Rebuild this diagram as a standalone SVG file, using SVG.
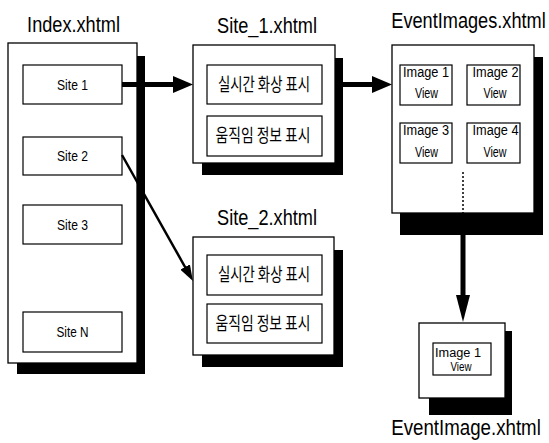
<svg xmlns="http://www.w3.org/2000/svg" width="549" height="443" viewBox="0 0 549 443">
<style>
.bg{fill:#fff}
.sh{fill:#000}
.box{fill:#fff;stroke:#000;stroke-width:1.3}
.in{fill:#fff;stroke:#000;stroke-width:1.2}
.t{font-family:"Liberation Sans",Arial,sans-serif;fill:#000;text-anchor:middle}
.title{font-size:22px}
.lbl{font-size:15px}
.img{font-size:14px}
.ko{font-family:"Noto Sans CJK KR","Noto Sans",sans-serif;font-size:18px;fill:#000;text-anchor:middle}
.thick{stroke:#000;stroke-width:5;fill:none}
.thin{stroke:#000;stroke-width:2.5;fill:none}
</style>
<defs>
<marker id="ahThick" viewBox="0 0 20 17" refX="10" refY="8.5" markerWidth="20" markerHeight="17" markerUnits="userSpaceOnUse" orient="auto"><path d="M0,0 L20,8.5 L0,17 z" fill="#000"/></marker>
<marker id="ahDown" viewBox="0 0 27 14" refX="5" refY="7" markerWidth="27" markerHeight="14" markerUnits="userSpaceOnUse" orient="auto"><path d="M0,0 L27,7 L0,14 z" fill="#000"/></marker>
<marker id="ahThin" viewBox="0 0 16 11" refX="8" refY="5.5" markerWidth="16" markerHeight="11" markerUnits="userSpaceOnUse" orient="auto"><path d="M0,0 L16,5.5 L0,11 z" fill="#000"/></marker>
</defs>
<rect class="bg" x="0" y="0" width="549" height="443"/>

<g id="index">
<text class="t title" transform="translate(73.5,32) scale(0.826,1)">Index.xhtml</text>
<rect class="sh" x="17" y="56" width="128" height="318"/>
<rect class="box" x="8" y="43" width="129" height="320"/>
<rect class="in" x="23" y="65" width="99" height="39"/>
<text class="t lbl" x="72.5" y="89.5" textLength="31" lengthAdjust="spacingAndGlyphs">Site 1</text>
<rect class="in" x="23" y="137" width="99" height="38"/>
<text class="t lbl" x="72.5" y="161" textLength="31" lengthAdjust="spacingAndGlyphs">Site 2</text>
<rect class="in" x="23" y="205" width="99" height="39"/>
<text class="t lbl" x="72.5" y="229.5" textLength="31" lengthAdjust="spacingAndGlyphs">Site 3</text>
<rect class="in" x="23" y="312" width="99" height="40"/>
<text class="t lbl" x="72.5" y="337" textLength="32" lengthAdjust="spacingAndGlyphs">Site N</text>
</g>

<g id="site1">
<text class="t title" transform="translate(267,33) scale(0.826,1)">Site_1.xhtml</text>
<rect class="sh" x="202" y="58" width="141" height="117"/>
<rect class="box" x="193" y="45" width="142" height="118"/>
<rect class="in" x="207" y="65" width="115" height="39"/>
<text class="ko" x="264" y="91" textLength="92" lengthAdjust="spacingAndGlyphs">실시간 화상 표시</text>
<rect class="in" x="207" y="116" width="115" height="40"/>
<text class="ko" x="263" y="142" textLength="95" lengthAdjust="spacingAndGlyphs">움직임 정보 표시</text>
</g>

<g id="site2">
<text class="t title" transform="translate(267,225) scale(0.826,1)">Site_2.xhtml</text>
<rect class="sh" x="202" y="250" width="141" height="117"/>
<rect class="box" x="193" y="237" width="141" height="118"/>
<rect class="in" x="207" y="255" width="115" height="40"/>
<text class="ko" x="264" y="281" textLength="92" lengthAdjust="spacingAndGlyphs">실시간 화상 표시</text>
<rect class="in" x="207" y="304" width="115" height="39"/>
<text class="ko" x="263" y="330" textLength="95" lengthAdjust="spacingAndGlyphs">움직임 정보 표시</text>
</g>

<g id="eventimages">
<text class="t title" transform="translate(468.5,28) scale(0.826,1)">EventImages.xhtml</text>
<rect class="sh" x="400" y="57" width="143" height="178"/>
<rect class="box" x="392" y="45" width="142" height="168"/>
<rect class="in" x="400" y="65" width="52" height="40"/>
<text class="t img" x="426" y="77" textLength="46" lengthAdjust="spacingAndGlyphs">Image 1</text>
<text class="t img" x="426.5" y="98" textLength="23" lengthAdjust="spacingAndGlyphs">View</text>
<rect class="in" x="467" y="65" width="53" height="40"/>
<text class="t img" x="495.5" y="77" textLength="46" lengthAdjust="spacingAndGlyphs">Image 2</text>
<text class="t img" x="495" y="98" textLength="23" lengthAdjust="spacingAndGlyphs">View</text>
<rect class="in" x="400" y="123" width="52" height="40"/>
<text class="t img" x="426" y="135" textLength="46" lengthAdjust="spacingAndGlyphs">Image 3</text>
<text class="t img" x="426.5" y="157" textLength="23" lengthAdjust="spacingAndGlyphs">View</text>
<rect class="in" x="467" y="123" width="53" height="40"/>
<text class="t img" x="495.5" y="135" textLength="46" lengthAdjust="spacingAndGlyphs">Image 4</text>
<text class="t img" x="495" y="157" textLength="23" lengthAdjust="spacingAndGlyphs">View</text>
<line x1="463" y1="172" x2="463" y2="213" stroke="#000" stroke-width="1.5" stroke-dasharray="2,2"/>
</g>

<g id="eventimage">
<rect class="sh" x="429" y="331" width="83" height="84"/>
<rect class="box" x="419" y="323" width="86" height="75"/>
<rect class="in" x="433" y="343" width="58" height="32"/>
<text class="t" style="font-size:12px" x="458" y="357" textLength="46" lengthAdjust="spacingAndGlyphs">Image 1</text>
<text class="t" style="font-size:12px" x="461" y="371" textLength="21" lengthAdjust="spacingAndGlyphs">View</text>
<text class="t title" transform="translate(466,435) scale(0.85,1)">EventImage.xhtml</text>
</g>

<g id="connectors">
<line class="thick" x1="122" y1="84.5" x2="183" y2="84.5" marker-end="url(#ahThick)"/>
<line class="thick" x1="335" y1="84.5" x2="382" y2="84.5" marker-end="url(#ahThick)"/>
<line class="thick" x1="463" y1="213" x2="463" y2="300" marker-end="url(#ahDown)"/>
<line class="thin" x1="122" y1="155" x2="189" y2="274" marker-end="url(#ahThin)"/>
</g>
</svg>
